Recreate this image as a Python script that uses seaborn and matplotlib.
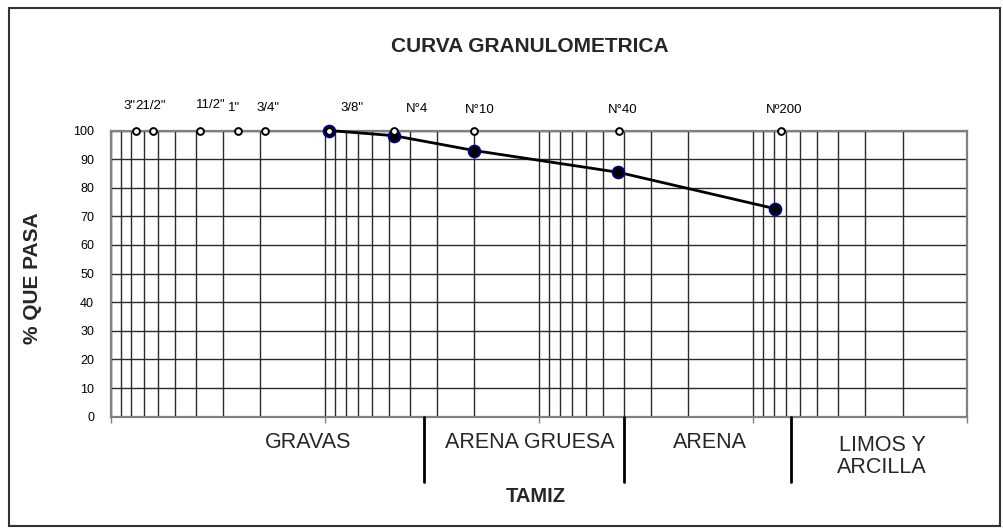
import numpy as np
import pandas as pd
import matplotlib
matplotlib.use("Agg")
import matplotlib.pyplot as plt
import seaborn as sns
from matplotlib.patches import Rectangle
from matplotlib.ticker import LogLocator, NullFormatter, FixedLocator

# ---------------- data ----------------
sieve_labels = ['3"', '21/2"', '11/2"', '1"', '3/4"', '3/8"', 'N°4', 'N°10', 'N°40', 'Nº200']
sieve_mm = [76.2, 63.5, 38.1, 25.4, 19.05, 9.525, 4.76, 2.00, 0.42, 0.074]
sieve_ref = [100, 100, 100, 100, 100, 100, 100, 100, 100, 100]

curve_mm = [9.525, 4.76, 2.00, 0.425, 0.079]
curve_pass = [100.0, 98.2, 93.0, 85.4, 72.7]

zones = ["GRAVAS", "ARENA GRUESA", "ARENA", "LIMOS Y\nARCILLA"]
y_ticks = [0, 10, 20, 30, 40, 50, 60, 70, 80, 90, 100]

# ---------------- layout (pixels / fractions) ----------------
label_dx = [-7, -2, 10, -4, 3, 23, 23, 5, 3, 3]
label_dy = [24.5, 24.5, 25.5, 22.5, 22.5, 22.5, 21.5, 20.5, 20.5, 20.5]
zone_x = [0.2305, 0.4898, 0.700, 0.901]
sep_x = [0.3655, 0.5999, 0.7947]

sns.set_theme(style="white")
plt.rcParams['font.family'] = ['Liberation Sans', 'DejaVu Sans']

fig = plt.figure(figsize=(10.04, 5.31), dpi=100)
ax = fig.add_axes([0.1103, 0.2153, 0.8528, 0.5389])

curve = pd.DataFrame({"mm": curve_mm, "pasa": curve_pass})
refs = pd.DataFrame({"mm": sieve_mm, "pasa": sieve_ref})

ax.set_xscale("log")
ax.set_xlim(100, 0.01)
ax.set_ylim(0, 100)

# grid
ax.xaxis.set_major_locator(LogLocator(base=10, numticks=10))
ax.xaxis.set_minor_locator(LogLocator(base=10, subs=np.arange(2, 10), numticks=20))
ax.xaxis.set_major_formatter(NullFormatter())
ax.xaxis.set_minor_formatter(NullFormatter())
ax.yaxis.set_major_locator(FixedLocator(y_ticks))
ax.grid(True, which="both", axis="x", color="#2a2a2a", lw=1.0)
ax.grid(True, which="major", axis="y", color="#2a2a2a", lw=1.0)
ax.set_axisbelow(True)

sns.lineplot(data=curve, x="mm", y="pasa", ax=ax, color="black", lw=2.0,
             marker="o", markersize=8.5, markerfacecolor="black",
             markeredgecolor="#000080", markeredgewidth=1.3,
             clip_on=False, zorder=4, estimator=None, sort=False)
sns.scatterplot(data=refs, x="mm", y="pasa", ax=ax, s=24, color="white",
                edgecolor="black", linewidth=1.4, clip_on=False, zorder=6)

for lab, xm, dx, dy in zip(sieve_labels, sieve_mm, label_dx, label_dy):
    ax.annotate(lab, xy=(xm, 100), xytext=(dx, dy), textcoords="offset pixels",
                ha="center", va="center", fontsize=9.5, color="black",
                annotation_clip=False)

for sp in ax.spines.values():
    sp.set_color("#808080")
    sp.set_linewidth(1.6)

ax.tick_params(axis="x", which="major", direction="out", length=4.5,
               width=1.0, color="#808080", bottom=True)
ax.tick_params(axis="x", which="minor", length=0)
ax.tick_params(axis="y", length=0, pad=12, labelsize=9, labelcolor="black")

ax.set_xlabel("TAMIZ", fontsize=14.5, fontweight="bold", va="center")
ax.xaxis.set_label_coords(0.497, -0.2806)
ax.set_ylabel("% QUE PASA", fontsize=15, fontweight="bold", va="center", ha="center")
ax.yaxis.set_label_coords(-0.0908, 0.4846)

for z, zx in zip(zones, zone_x):
    yy = -0.0919 if "\n" not in z else -0.139
    ax.text(zx, yy, z, transform=ax.transAxes, ha="center", va="center",
            fontsize=15.5, linespacing=1.05)

for sx in sep_x:
    ax.plot([sx, sx], [0, -0.228], transform=ax.transAxes, color="black",
            lw=2.0, clip_on=False, zorder=5)

fig.text(0.528, 1 - 46.5 / 531, "CURVA GRANULOMETRICA", ha="center", va="center",
         fontsize=15, fontweight="bold")

fig.patches.append(Rectangle((9 / 1004, 1 - 526 / 531), 991 / 1004, 518 / 531,
                             transform=fig.transFigure, fill=False,
                             edgecolor="#333333", lw=1.5))

fig.savefig("out.png", dpi=100, facecolor="white")
